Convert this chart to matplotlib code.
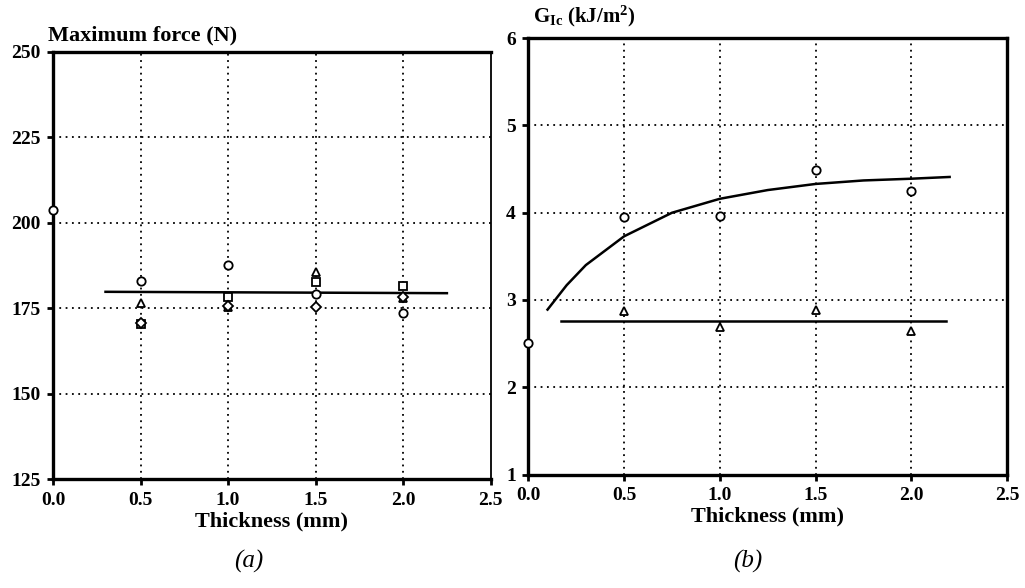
import matplotlib
matplotlib.use("Agg")
import matplotlib.pyplot as plt

# ── DATA ───────────────────────────────────────────────────
thickness = [0.5, 1.0, 1.5, 2.0]

# (a) maximum force, four specimen series
force_circle = [183.0, 187.5, 179.1, 173.7]
force_square = [170.5, 178.4, 182.8, 181.5]
force_triangle = [176.6, 175.4, 185.7, 178.0]
force_diamond = [170.8, 175.6, 175.4, 178.2]
force_zero_x = [0.0]
force_zero_y = [203.7]
force_fit_x = [0.3, 2.25]
force_fit_y = [179.8, 179.4]

# (b) fracture toughness G_Ic
gic_circle = [3.95, 3.96, 4.49, 4.25]
gic_triangle = [2.87, 2.69, 2.89, 2.64]
gic_zero_x = [0.0]
gic_zero_y = [2.51]
gic_curve_x = [0.1, 0.2, 0.3, 0.5, 0.75, 1.0, 1.25, 1.5, 1.75, 2.0, 2.2]
gic_curve_y = [2.89, 3.17, 3.40, 3.73, 4.00, 4.16, 4.26, 4.33, 4.37, 4.39, 4.41]
gic_flat_x = [0.17, 2.18]
gic_flat_y = [2.76, 2.76]

xticks = [0.0, 0.5, 1.0, 1.5, 2.0, 2.5]
force_ticks = [125, 150, 175, 200, 225, 250]
gic_ticks = [1, 2, 3, 4, 5, 6]

SERIF = ["Liberation Serif", "DejaVu Serif"]
plt.rcParams["font.family"] = SERIF
plt.rcParams["mathtext.fontset"] = "custom"
plt.rcParams["mathtext.rm"] = "Liberation Serif:bold"
plt.rcParams["mathtext.bf"] = "Liberation Serif:bold"
plt.rcParams["mathtext.it"] = "Liberation Serif:bold"

MK = dict(linestyle="none", markerfacecolor="white", markeredgecolor="black",
          markeredgewidth=1.3, markersize=6)


def style_axes(ax, yticks, thick_right):
    ax.set_xlim(0, 2.5)
    ax.set_ylim(yticks[0], yticks[-1])
    ax.set_xticks(xticks)
    ax.set_yticks(yticks)
    ax.set_xticklabels([f"{v:.1f}" for v in xticks])
    ax.set_yticklabels([str(v) for v in yticks])
    for lab in ax.get_xticklabels() + ax.get_yticklabels():
        lab.set_fontweight("bold")
        lab.set_fontsize(14)
    ax.tick_params(direction="out", length=4, width=2, pad=5, colors="black")
    for side in ["left", "top", "bottom"]:
        ax.spines[side].set_linewidth(2.4)
    ax.spines["right"].set_linewidth(2.4 if thick_right else 1.3)
    # dotted grid only on the inner ticks
    for x in xticks[1:-1]:
        ax.axvline(x, color="black", lw=1.3, ls=(0, (1, 2.5)), zorder=1)
    for y in yticks[1:-1]:
        ax.axhline(y, color="black", lw=1.3, ls=(0, (1, 2.5)), zorder=1)
    ax.set_xlabel("Thickness (mm)", fontsize=16, fontweight="bold", labelpad=2)


fig = plt.figure(figsize=(10.25, 5.88), dpi=100)

# ── (a) MAXIMUM FORCE ──────────────────────────────────────
ax1 = fig.add_axes([0.0517, 0.185, 0.427, 0.727])
style_axes(ax1, force_ticks, thick_right=False)
ax1.plot(force_fit_x, force_fit_y, color="black", lw=1.8, zorder=2)
ax1.plot(thickness, force_circle, marker="o", zorder=3, **MK)
ax1.plot(thickness, force_square, marker="s", zorder=3, **MK)
ax1.plot(thickness, force_triangle, marker="^", zorder=3, **MK)
ax1.plot(thickness, force_diamond, marker="D", zorder=3, **dict(MK, markersize=5))
ax1.plot(force_zero_x, force_zero_y, marker="o", clip_on=False, zorder=5, **MK)
ax1.text(-0.012, 1.015, "Maximum force (N)", transform=ax1.transAxes,
         fontsize=16, fontweight="bold", ha="left", va="bottom")
fig.text(0.243, 0.035, "(a)", fontsize=18, style="italic", ha="center")

# ── (b) G_Ic ───────────────────────────────────────────────
ax2 = fig.add_axes([0.5155, 0.193, 0.467, 0.742])
style_axes(ax2, gic_ticks, thick_right=True)
ax2.plot(gic_curve_x, gic_curve_y, color="black", lw=1.8, zorder=2)
ax2.plot(gic_flat_x, gic_flat_y, color="black", lw=1.8, zorder=2)
ax2.plot(thickness, gic_circle, marker="o", zorder=3, **MK)
ax2.plot(thickness, gic_triangle, marker="^", zorder=3, **MK)
ax2.plot(gic_zero_x, gic_zero_y, marker="o", clip_on=False, zorder=5, **MK)
ax2.text(0.01, 1.02, r"G$_{\mathbf{Ic}}$ (kJ/m$^{\mathbf{2}}$)", transform=ax2.transAxes,
         fontsize=15, fontweight="bold", ha="left", va="bottom")
fig.text(0.73, 0.035, "(b)", fontsize=18, style="italic", ha="center")

fig.savefig("out.png", dpi=100, facecolor="white")
